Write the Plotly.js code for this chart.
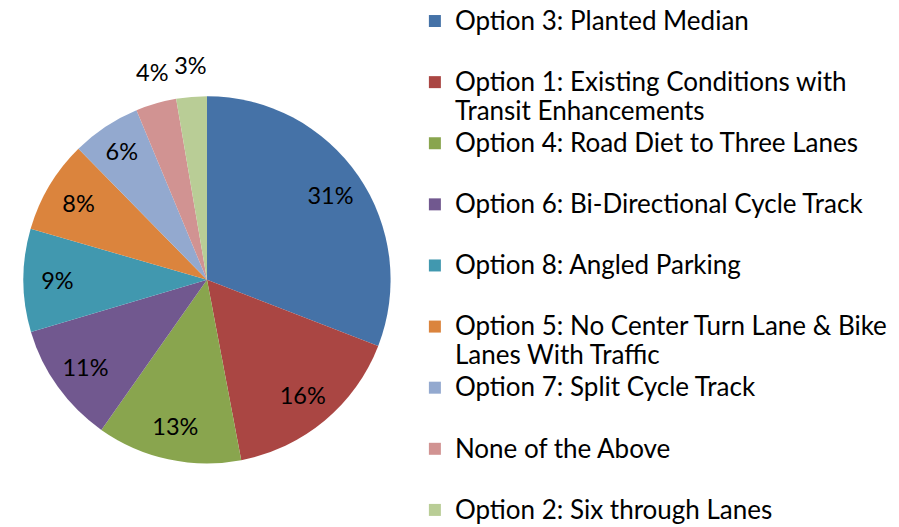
<!DOCTYPE html>
<html>
<head>
<meta charset="utf-8">
<script src="https://cdn.plot.ly/plotly-3.0.1.min.js"></script>
<style>html,body{margin:0;padding:0;background:#fff;}#chart{width:899px;height:527px;}</style>
</head>
<body>
<div id="chart"></div>
<script>
const labels = [
  "Option 3: Planted Median",
  "Option 1: Existing Conditions with",
  "Option 4: Road Diet to Three Lanes",
  "Option 6: Bi-Directional Cycle Track",
  "Option 8: Angled Parking",
  "Option 5: No Center Turn Lane & Bike",
  "Option 7: Split Cycle Track",
  "None of the Above",
  "Option 2: Six through Lanes"
];
const labelSecondLines = ["", "Transit Enhancements", "", "", "", "Lanes With Traffic", "", "", ""];
const shares = [31, 16.2, 12.8, 10.7, 9.1, 8.2, 6.1, 3.6, 2.7];
const colors = ["#4572A7", "#AA4643", "#89A54E", "#71588F", "#4198AF", "#DB843D", "#93A9CF", "#D19392", "#B9CD96"];
// which percent labels sit on the slice, and which just outside the pie
const insideLabel = [true, true, true, true, true, true, true, false, false];

const FONT = "Lato, 'Open Sans', sans-serif";
const big = s => '<span style="font-size:26px">' + s + '</span>';
const legendLabels = labels.map((l, i) => big(l) + "<br>" + (labelSecondLines[i] ? big(labelSecondLines[i]) : " "));
const ghostLabels = labels.map(l => l + " ");
const pieDomain = { x: [19.5 / 899, 394.5 / 899], y: [65 / 527, 440 / 527] };
const outerDomain = { x: [0, 414 / 899], y: [48 / 527, 496 / 527] };
const pctFont = { family: FONT, size: 23.5, color: "#000" };
const transparent = shares.map(() => "rgba(0,0,0,0)");

const common = { type: "pie", values: shares, sort: false, direction: "clockwise", rotation: 0 };

// real slices + legend
const pieTrace = Object.assign({}, common, {
  labels: legendLabels,
  marker: { colors: colors, line: { width: 0 } },
  textposition: "none",
  domain: pieDomain
});

// percent labels placed in a ring on the slices (transparent)
const ringTrace = Object.assign({}, common, {
  labels: ghostLabels,
  hole: 0.63,
  showlegend: false,
  marker: { colors: transparent, line: { width: 0 } },
  texttemplate: "%{percent:.0%}",
  textposition: insideLabel.map(b => b ? "inside" : "none"),
  insidetextorientation: "horizontal",
  insidetextfont: pctFont,
  textfont: pctFont,
  domain: pieDomain
});

// labels of the smallest slices, in a thin ring just outside the pie (transparent)
const outerTrace = Object.assign({}, common, {
  labels: ghostLabels,
  hole: 0.9,
  showlegend: false,
  marker: { colors: transparent, line: { width: 0 } },
  texttemplate: "%{percent:.0%}",
  textposition: insideLabel.map(b => b ? "none" : "inside"),
  insidetextorientation: "horizontal",
  insidetextfont: pctFont,
  textfont: pctFont,
  domain: outerDomain
});

const layout = {
  width: 899,
  height: 527,
  margin: { l: 0, r: 0, t: 0, b: 0 },
  paper_bgcolor: "#fff",
  showlegend: true,
  uniformtext: { mode: "show", minsize: 23 },
  legend: {
    x: 0.4615,
    xanchor: "left",
    y: 1.021,
    yanchor: "top",
    valign: "top",
    maxheight: 1000,
    font: { family: FONT, size: 22.35, color: "#000" },
    bgcolor: "rgba(0,0,0,0)"
  },
  font: { family: FONT, color: "#000" }
};

Plotly.newPlot("chart", [pieTrace, ringTrace, outerTrace], layout, { displayModeBar: false, staticPlot: true });
</script>
</body>
</html>
